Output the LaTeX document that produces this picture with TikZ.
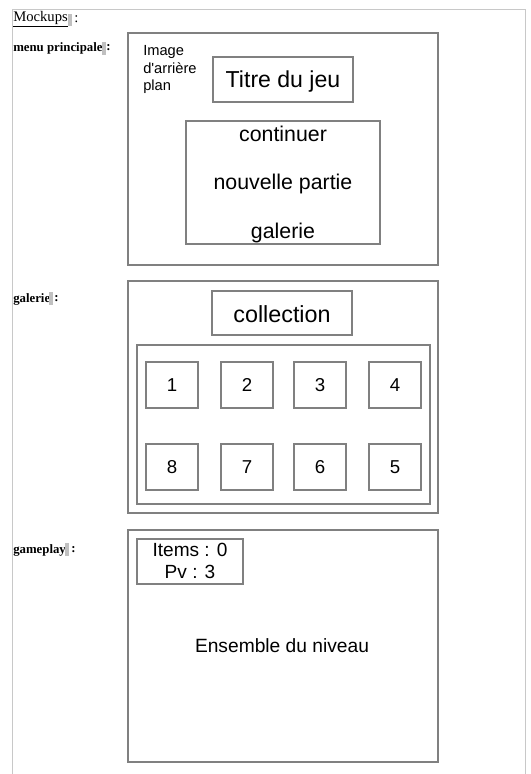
\documentclass[tikz,border=0pt]{standalone}
\usepackage{fontspec}
\setmainfont{Liberation Serif}
\newfontfamily\mockfont{Liberation Sans}

\tikzset{
mock box/.style={draw={rgb, 255:red, 128; green, 128; blue, 128 }, line width=1.5pt},
page line/.style={draw={rgb, 255:red, 200; green, 200; blue, 200 }, line width=0.75pt},
field mark/.style={fill={rgb, 255:red, 192; green, 192; blue, 192 }},
mock text/.style={inner sep=0.75pt, font=\mockfont\fontsize{#1}{#1}\selectfont},
label text/.style={inner sep=0pt, anchor=west, font=\bfseries\fontsize{9.6}{11}\selectfont}}

\begin{document}
\begin{tikzpicture}[x=0.75pt,y=0.75pt,yscale=-1,xscale=1]
\useasboundingbox (0,0) rectangle (531,774);

%Straight Lines
\draw [page line] (12,774) -- (12,10) -- (525,10) -- (525,774) ;

% Text Node
\draw (13,19) node [anchor=west, inner sep=0pt, font=\fontsize{11}{13}\selectfont] (mockups) {\underline{Mockups}};
\fill [field mark] (68,14) rectangle (72,26) ;
\draw (74,19) node [anchor=west, inner sep=0pt, font=\fontsize{11}{13}\selectfont] (mockupscolon) {:};
% Text Node
\draw (13,48) node [label text] (menulabel) {menu principale};
\fill [field mark] (102,42) rectangle (106,55) ;
\draw (106,48) node [label text] (menucolon) {:};
% Text Node
\draw (13,299) node [label text] (galerielabel) {galerie};
\fill [field mark] (49,292) rectangle (53,305) ;
\draw (54,299) node [label text] (galeriecolon) {:};
% Text Node
\draw (13,550) node [label text] (gameplaylabel) {gameplay};
\fill [field mark] (65,543) rectangle (69,556) ;
\draw (71,550) node [label text] (gameplaycolon) {:};

%Shape: Rectangle
\draw [mock box] (128,33) -- (438,33) -- (438,265) -- (128,265) -- cycle ;
%Shape: Rectangle
\draw [mock box] (213,57) -- (353,57) -- (353,102) -- (213,102) -- cycle ;
%Shape: Rectangle
\draw [mock box] (186,121) -- (380,121) -- (380,244) -- (186,244) -- cycle ;

% Text Node
\draw (142,69.5) node [anchor=west, mock text=11, align=left] (fond) {Image\\[2.1pt]d'arrière\\[2.1pt]plan};
% Text Node
\draw (283,82) node [mock text=17.3] (titre) {Titre du jeu};
% Text Node
\draw (283,134) node [mock text=16] (continuer) {continuer};
% Text Node
\draw (283,184) node [mock text=16] (nouvelle) {nouvelle partie};
% Text Node
\draw (283,233) node [mock text=16] (galeriebtn) {galerie};

%Shape: Rectangle
\draw [mock box] (128,281) -- (438,281) -- (438,513) -- (128,513) -- cycle ;
%Shape: Rectangle
\draw [mock box] (212,291) -- (352,291) -- (352,335) -- (212,335) -- cycle ;
%Shape: Rectangle
\draw [mock box] (137,345) -- (430,345) -- (430,504) -- (137,504) -- cycle ;

% Text Node
\draw (282,314) node [mock text=17.5] (collection) {collection};

%Shape: Rectangle (cells)
\foreach \cx/\top/\lab [count=\i] in {146/362/1, 221/362/2, 294/362/3, 369/362/4, 146/444/8, 221/444/7, 294/444/6, 369/444/5}
{
\draw [mock box] (\cx,\top) -- (\cx+52,\top) -- (\cx+52,\top+46) -- (\cx,\top+46) -- cycle ;
\draw (\cx+26,\top+23) node [mock text=14] (cell\i) {\lab};
}

%Shape: Rectangle
\draw [mock box] (128,530) -- (438,530) -- (438,762) -- (128,762) -- cycle ;
%Shape: Rectangle
\draw [mock box] (137,539) -- (243,539) -- (243,584) -- (137,584) -- cycle ;

% Text Node
\draw (190,561) node [mock text=14.3, align=center] (stats) {Items : 0\\[2pt]Pv : 3};
% Text Node
\draw (282,646) node [mock text=14.4] (niveau) {Ensemble du niveau};

\end{tikzpicture}
\end{document}
